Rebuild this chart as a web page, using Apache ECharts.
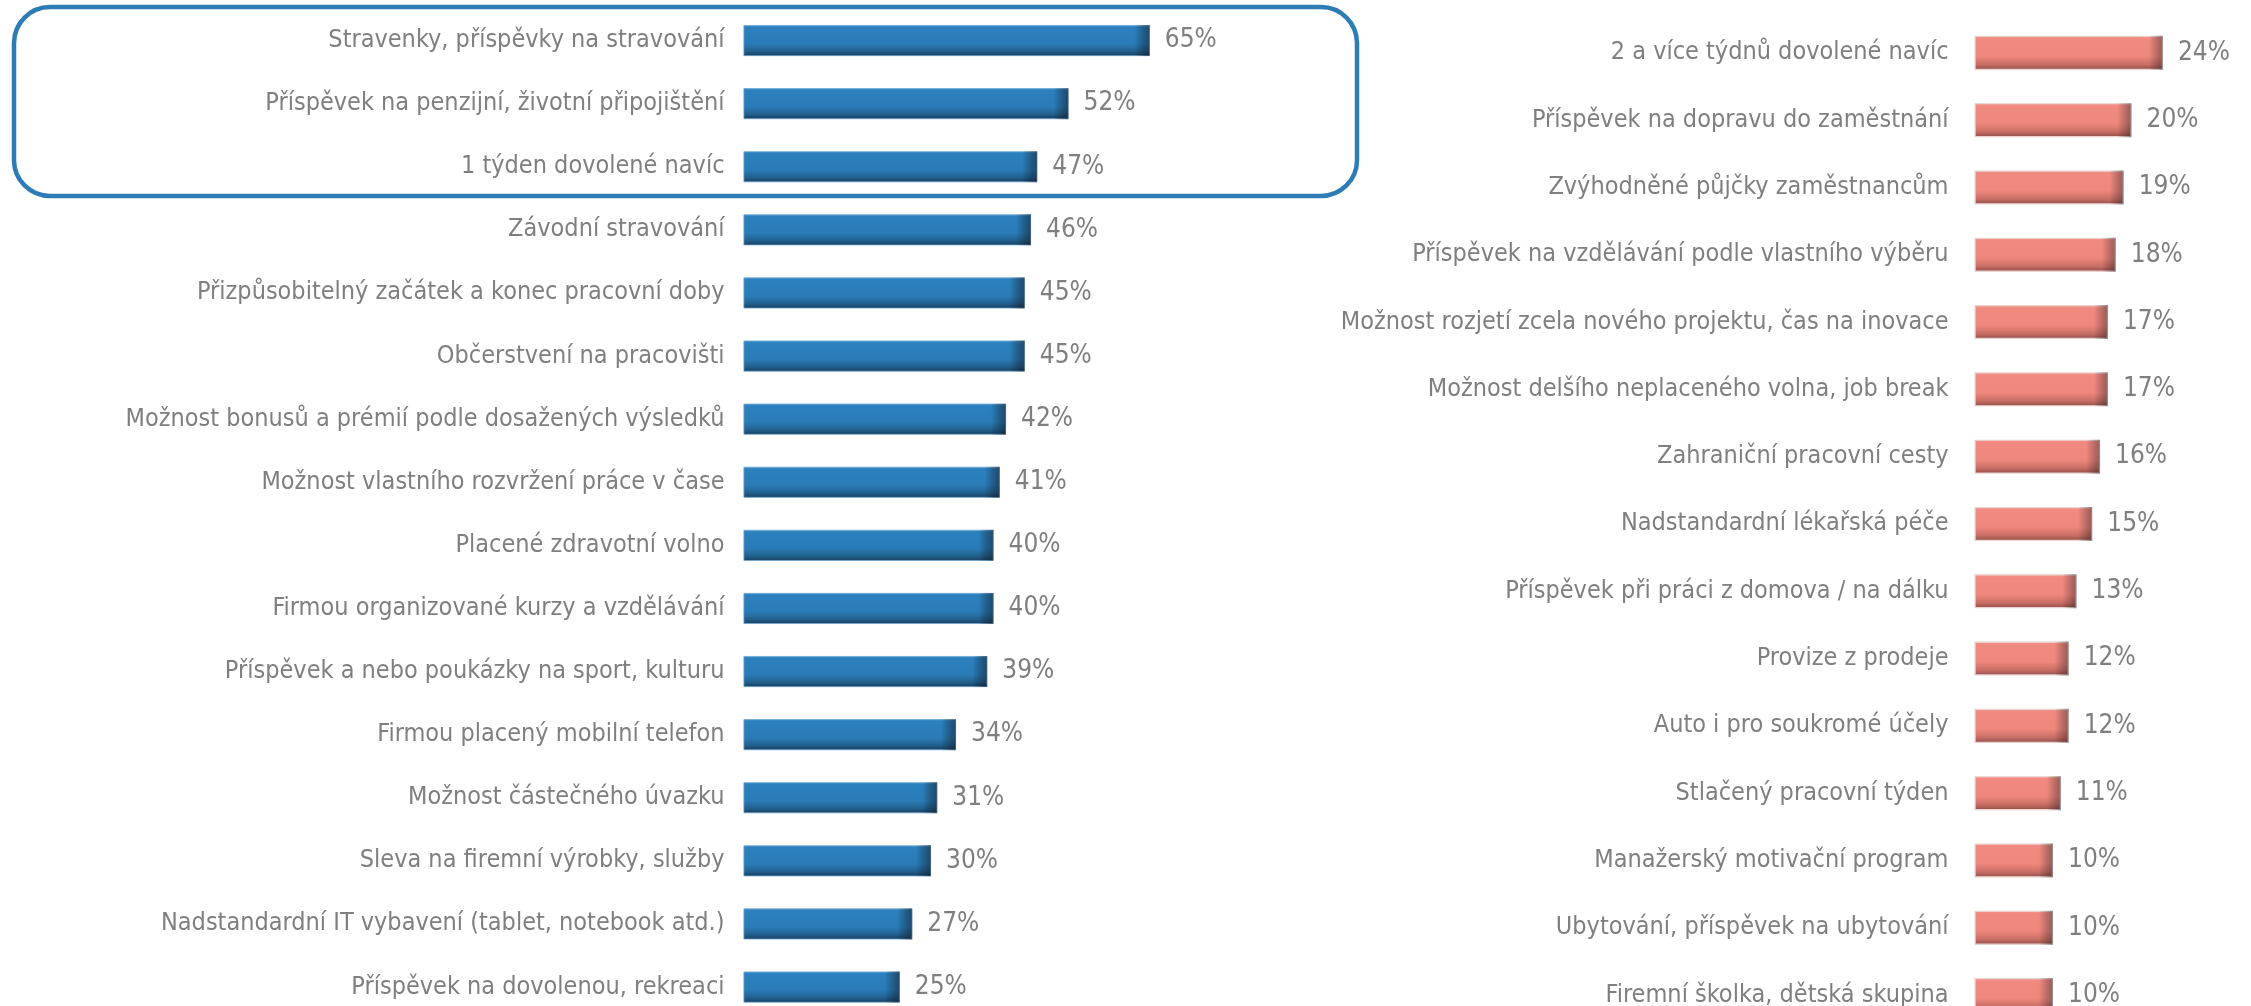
<!DOCTYPE html>
<html>
<head>
<meta charset="utf-8">
<script src="https://cdn.jsdelivr.net/npm/echarts@6/dist/echarts.min.js"></script>
<style>
html,body{margin:0;padding:0;background:#fff;width:2251px;height:1006px;overflow:hidden;}
#chart{width:2251px;height:1040px;}
</style>
</head>
<body>
<div id="chart"></div>
<script>
// ---- data ----
const leftCategories = [
  'Stravenky, příspěvky na stravování',
  'Příspěvek na penzijní, životní připojištění',
  '1 týden dovolené navíc',
  'Závodní stravování',
  'Přizpůsobitelný začátek a konec pracovní doby',
  'Občerstvení na pracovišti',
  'Možnost bonusů a prémií podle dosažených výsledků',
  'Možnost vlastního rozvržení práce v čase',
  'Placené zdravotní volno',
  'Firmou organizované kurzy a vzdělávání',
  'Příspěvek a nebo poukázky na sport, kulturu',
  'Firmou placený mobilní telefon',
  'Možnost částečného úvazku',
  'Sleva na firemní výrobky, služby',
  'Nadstandardní IT vybavení (tablet, notebook atd.)',
  'Příspěvek na dovolenou, rekreaci'
];
const leftValues = [65, 52, 47, 46, 45, 45, 42, 41, 40, 40, 39, 34, 31, 30, 27, 25];

const rightCategories = [
  '2 a více týdnů dovolené navíc',
  'Příspěvek na dopravu do zaměstnání',
  'Zvýhodněné půjčky zaměstnancům',
  'Příspěvek na vzdělávání podle vlastního výběru',
  'Možnost rozjetí zcela nového projektu, čas na inovace',
  'Možnost delšího neplaceného volna, job break',
  'Zahraniční pracovní cesty',
  'Nadstandardní lékařská péče',
  'Příspěvek při práci z domova / na dálku',
  'Provize z prodeje',
  'Auto i pro soukromé účely',
  'Stlačený pracovní týden',
  'Manažerský motivační program',
  'Ubytování, příspěvek na ubytování',
  'Firemní školka, dětská skupina'
];
const rightValues = [24, 20, 19, 18, 17, 17, 16, 15, 13, 12, 12, 11, 10, 10, 10];

// ---- layout / style ----
const FONT = "'Liberation Sans Narrow', 'DejaVu Sans Condensed', Lato, sans-serif";
const GRAY = '#7f7f7f';
const L = {left: 743.5, max: 100, pxPer: 6.25, top: 9, rowH: 63.1, barW: 31};
const R = {left: 1974.5, max: 30, pxPer: 7.85, top: 19.2, rowH: 67.3, barW: 34};
L.width = L.max * L.pxPer; L.height = leftCategories.length * L.rowH;
R.width = R.max * R.pxPer; R.height = rightCategories.length * R.rowH;

const G = echarts.graphic;
const blueFill = new G.LinearGradient(0, 0, 0, 1, [
  {offset: 0, color: '#4a97cf'},
  {offset: 0.07, color: '#2b80bd'},
  {offset: 0.6, color: '#2a7cb8'},
  {offset: 0.84, color: '#22618f'},
  {offset: 1, color: '#173d5c'}
]);
const redFill = new G.LinearGradient(0, 0, 0, 1, [
  {offset: 0, color: '#f39a91'},
  {offset: 0.08, color: '#f08a80'},
  {offset: 0.6, color: '#ee877d'},
  {offset: 0.84, color: '#c86e65'},
  {offset: 1, color: '#8f4d47'}
]);
function edgeShade(cfg, edgePx, alpha) {
  return function (p) {
    const len = Math.max(p.value * cfg.pxPer, 1);
    const s = Math.max(0, 1 - edgePx / len);
    return new G.LinearGradient(0, 0, 1, 0, [
      {offset: 0, color: 'rgba(0,0,0,0)'},
      {offset: s, color: 'rgba(0,0,0,0)'},
      {offset: 1, color: 'rgba(20,20,30,' + alpha + ')'}
    ]);
  };
}

const catAxis = (gi, margin) => ({
  type: 'category', gridIndex: gi, inverse: true,
  data: gi === 0 ? leftCategories : rightCategories,
  axisLine: {show: false}, axisTick: {show: false}, splitLine: {show: false},
  axisLabel: {color: GRAY, fontSize: 25, fontFamily: FONT, margin: margin, interval: 0}
});
const valAxis = (gi, max) => ({
  type: 'value', gridIndex: gi, min: 0, max: max, show: false, splitLine: {show: false}
});

const option = {
  backgroundColor: '#fff',
  animation: false,
  grid: [
    {left: L.left, top: L.top, width: L.width, height: L.height, containLabel: false},
    {left: R.left, top: R.top, width: R.width, height: R.height, containLabel: false}
  ],
  xAxis: [valAxis(0, L.max), valAxis(1, R.max)],
  yAxis: [catAxis(0, 19), catAxis(1, 26)],
  series: [
    {type: 'bar', xAxisIndex: 0, yAxisIndex: 0, data: leftValues, barWidth: L.barW,
     itemStyle: {color: blueFill, borderColor: '#6da6d2', borderWidth: 0.8}},
    {type: 'bar', xAxisIndex: 0, yAxisIndex: 0, data: leftValues, barWidth: L.barW, barGap: '-100%',
     silent: true, itemStyle: {color: edgeShade(L, 15, 0.5)},
     label: {show: true, position: 'right', distance: 15, formatter: '{c}%',
             color: GRAY, fontSize: 26, fontFamily: FONT}},
    {type: 'bar', xAxisIndex: 1, yAxisIndex: 1, data: rightValues, barWidth: R.barW,
     itemStyle: {color: redFill, borderColor: '#e9d2cf', borderWidth: 1.2}},
    {type: 'bar', xAxisIndex: 1, yAxisIndex: 1, data: rightValues, barWidth: R.barW, barGap: '-100%',
     silent: true, itemStyle: {color: edgeShade(R, 14, 0.4)},
     label: {show: true, position: 'right', distance: 15, formatter: '{c}%',
             color: GRAY, fontSize: 26, fontFamily: FONT}}
  ],
  graphic: [
    {type: 'rect', z: 10, shape: {x: 14, y: 7, width: 1343, height: 189, r: 36},
     style: {fill: 'none', stroke: '#2e7cb6', lineWidth: 4.5}}
  ]
};

const chart = echarts.init(document.getElementById('chart'), null, {renderer: 'canvas'});
chart.setOption(option);
</script>
</body>
</html>
